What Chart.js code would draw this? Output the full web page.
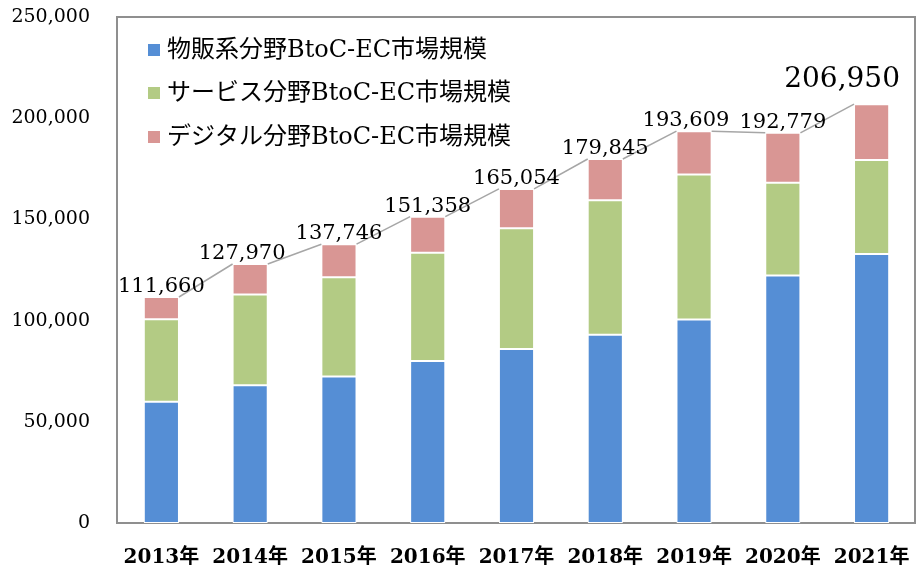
<!DOCTYPE html>
<html>
<head>
<meta charset="utf-8">
<script src="https://cdn.jsdelivr.net/npm/chart.js@4.4.1/dist/chart.umd.min.js"></script>
<style>
    html, body { margin: 0; padding: 0; background: #ffffff; }
    canvas { display: block; }
</style>
</head>
<body>
<canvas id="ecChart" width="917" height="567"></canvas>
<script>
var years = ["2013年", "2014年", "2015年", "2016年", "2017年", "2018年", "2019年", "2020年", "2021年"];
var goodsValues = [59931, 68043, 72398, 80043, 86008, 92992, 100515, 122333, 132865];
var serviceValues = [40700, 44816, 49014, 53532, 59568, 66471, 71672, 45832, 46424];
var digitalValues = [11029, 15111, 16334, 17782, 19478, 20382, 21422, 24614, 27661];
var totalValues = [111660, 127970, 137746, 151358, 165054, 179845, 193609, 192779, 206950];
var seriesNames = ["物販系分野BtoC-EC市場規模", "サービス分野BtoC-EC市場規模", "デジタル分野BtoC-EC市場規模"];
var seriesColors = ["#558ED5", "#B3CB84", "#D99694"];

var serifFont = "'DejaVu Serif', 'Noto Sans CJK JP', serif";

// frame round the plot area, series lines, total labels and the legend
var chartExtras = {
    id: "chartExtras",
    beforeDatasetsDraw: function (chart) {
        var ctx = chart.ctx;
        var area = chart.chartArea;
        ctx.save();
        ctx.strokeStyle = "#8f8f8f";
        ctx.lineWidth = 2;
        ctx.strokeRect(area.left, area.top, area.right - area.left - 1, area.bottom - area.top);
        ctx.restore();
    },
    afterDatasetsDraw: function (chart) {
        var ctx = chart.ctx;
        var area = chart.chartArea;
        var topMeta = chart.getDatasetMeta(chart.data.datasets.length - 1);
        var bars = topMeta.data;
        ctx.save();
        ctx.strokeStyle = "#a6a6a6";
        ctx.lineWidth = 1.5;
        for (var i = 0; i < bars.length - 1; i++) {
            var a = bars[i].getProps(["x", "y", "width"], true);
            var b = bars[i + 1].getProps(["x", "y", "width"], true);
            ctx.beginPath();
            ctx.moveTo(a.x + a.width / 2, a.y);
            ctx.lineTo(b.x - b.width / 2, b.y);
            ctx.stroke();
        }
        // total labels, placed right to left so they do not run into each other
        ctx.fillStyle = "#000000";
        ctx.textAlign = "center";
        ctx.textBaseline = "alphabetic";
        var limitRight = area.right - 16;
        var prevY = null;
        for (var j = bars.length - 1; j >= 0; j--) {
            var p = bars[j].getProps(["x", "y"], true);
            var text = totalValues[j].toLocaleString("en-US");
            var last = j == bars.length - 1;
            ctx.font = (last ? "28px " : "21px ") + serifFont;
            var w = ctx.measureText(text).width;
            var ty = p.y - (last ? 17 : 5);
            var cx = p.x;
            if (prevY === null || Math.abs(prevY - ty) < 20 || last) {
                if (cx + w / 2 > limitRight) {
                    cx = limitRight - w / 2;
                }
            }
            ctx.fillText(text, cx, ty);
            limitRight = cx - w / 2 - 10;
            prevY = ty;
        }
        // legend inside the plot area
        ctx.textAlign = "left";
        ctx.textBaseline = "middle";
        ctx.font = "24px " + serifFont;
        var legendY = [33, 76, 120];
        for (var k = 0; k < seriesNames.length; k++) {
            var ly = area.top + legendY[k];
            ctx.fillStyle = seriesColors[k];
            ctx.fillRect(area.left + 31, ly - 6, 12, 12);
            ctx.fillStyle = "#000000";
            ctx.fillText(seriesNames[k], area.left + 50, ly + 1);
        }
        ctx.restore();
    },
};

var datasets = [];
var seriesData = [goodsValues, serviceValues, digitalValues];
for (var s = 0; s < seriesNames.length; s++) {
    datasets.push({
        label: seriesNames[s],
        data: seriesData[s],
        backgroundColor: seriesColors[s],
        borderColor: "#ffffff",
        borderWidth: 1,
        borderSkipped: false,
        barPercentage: 0.396,
        categoryPercentage: 1.0,
    });
}

var config = {
    type: "bar",
    data: {
        labels: years,
        datasets: datasets,
    },
    options: {
        responsive: false,
        animation: false,
        layout: {
            padding: { top: 17, right: 1, left: 0, bottom: 0 },
        },
        plugins: {
            legend: { display: false },
            tooltip: { enabled: false },
        },
        scales: {
            x: {
                stacked: true,
                grid: { display: false, drawTicks: false },
                border: { display: false },
                ticks: {
                    color: "#000000",
                    padding: 23,
                    maxRotation: 0,
                    font: { family: serifFont, size: 20, weight: "bold" },
                },
                afterFit: function (scale) {
                    scale.height = 44;
                    scale.paddingLeft = 0;
                    scale.paddingRight = 0;
                },
            },
            y: {
                stacked: true,
                min: 0,
                max: 250000,
                grid: { display: false, drawTicks: false },
                border: { display: false },
                ticks: {
                    stepSize: 50000,
                    color: "#000000",
                    padding: 27,
                    font: { family: serifFont, size: 19 },
                    callback: function (value) {
                        return value.toLocaleString("en-US");
                    },
                },
                afterFit: function (scale) {
                    scale.width = 117;
                    scale.paddingTop = 0;
                    scale.paddingBottom = 0;
                },
            },
        },
    },
    plugins: [chartExtras],
};

var ecChart = new Chart("ecChart", config);
</script>
</body>
</html>
